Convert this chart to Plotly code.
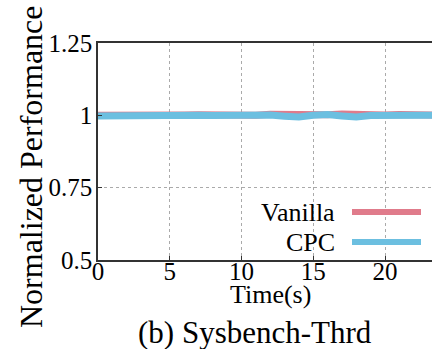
import plotly.graph_objects as go

# Normalized throughput over time for the two configurations
time_s = list(range(0, 25))
vanilla = [1.000, 1.000, 1.000, 0.997, 0.995, 0.998, 1.001, 1.002, 1.001, 0.999,
           0.997, 1.000, 1.004, 1.003, 1.000, 0.998, 1.002, 1.005, 1.003, 1.000,
           1.001, 1.003, 1.002, 1.000, 1.000]
cpc = [0.998, 0.999, 1.000, 1.001, 1.002, 1.003, 1.002, 1.000, 0.999, 1.000,
       1.001, 1.002, 1.001, 0.997, 0.994, 1.000, 1.003, 0.998, 0.994, 0.999,
       1.000, 1.000, 1.000, 1.000, 1.000]

x_ticks = [0, 5, 10, 15, 20, 25, 30]
y_ticks = [0.5, 0.75, 1.0, 1.25]
y_tick_labels = ["0.5", "0.75", "1", "1.25"]

RED = "#e07b8b"
BLUE = "#6cbfe0"
FONT = "Liberation Serif"

W, H = 432, 349
L, T, B = 98, 43, 89
plot_w = W - L
plot_h = H - T - B


def px_x(p):
    return (p - L) / plot_w


def px_y(p):
    return (H - B - p) / plot_h


fig = go.Figure()
fig.add_trace(go.Scatter(x=time_s, y=vanilla, mode="lines", name="Vanilla",
                         line=dict(color=RED, width=7), showlegend=False))
fig.add_trace(go.Scatter(x=time_s, y=cpc, mode="lines", name="CPC",
                         line=dict(color=BLUE, width=7), showlegend=False))

fig.update_layout(
    width=W, height=H,
    margin=dict(l=L, r=0, t=T, b=B),
    paper_bgcolor="white", plot_bgcolor="white",
    font=dict(family=FONT, size=25, color="black"),
)
fig.update_xaxes(
    range=[0, plot_w / 14.35], tickvals=x_ticks,
    showline=True, linecolor="#333", linewidth=1.5, mirror=True,
    ticks="inside", ticklen=4, tickcolor="#333",
    showgrid=True, gridcolor="#aaa", griddash="dot", gridwidth=1,
    zeroline=False, tickfont=dict(family=FONT, size=25), ticklabelstandoff=-12,
)
fig.update_yaxes(
    range=[0.5, 1.25], tickvals=y_ticks, ticktext=y_tick_labels,
    showline=True, linecolor="#333", linewidth=1.5,
    ticks="inside", ticklen=4, tickcolor="#333",
    showgrid=True, gridcolor="#aaa", griddash="dot", gridwidth=1,
    zeroline=False, tickfont=dict(family=FONT, size=25), ticklabelstandoff=-1,
)

annotations = [
    dict(text="Normalized Performance", x=px_x(31), y=px_y(167), textangle=-90,
         font=dict(family=FONT, size=32)),
    dict(text="Time(s)", x=px_x(270), y=px_y(294), font=dict(family=FONT, size=26)),
    dict(text="(b) Sysbench-Thrd", x=px_x(255), y=px_y(332),
         font=dict(family=FONT, size=31)),
    dict(text="Vanilla", x=px_x(337), y=px_y(212), xanchor="right",
         font=dict(family=FONT, size=26)),
    dict(text="CPC", x=px_x(337), y=px_y(242), xanchor="right",
         font=dict(family=FONT, size=26)),
]
for a in annotations:
    a.setdefault("xanchor", "center")
    fig.add_annotation(xref="paper", yref="paper", yanchor="middle",
                       showarrow=False, **a)

# Legend keys
for py, col in [(212, RED), (242, BLUE)]:
    fig.add_shape(type="line", xref="paper", yref="paper",
                  x0=px_x(352), x1=px_x(421), y0=px_y(py), y1=px_y(py),
                  line=dict(color=col, width=6))

fig.write_html("out.html")
